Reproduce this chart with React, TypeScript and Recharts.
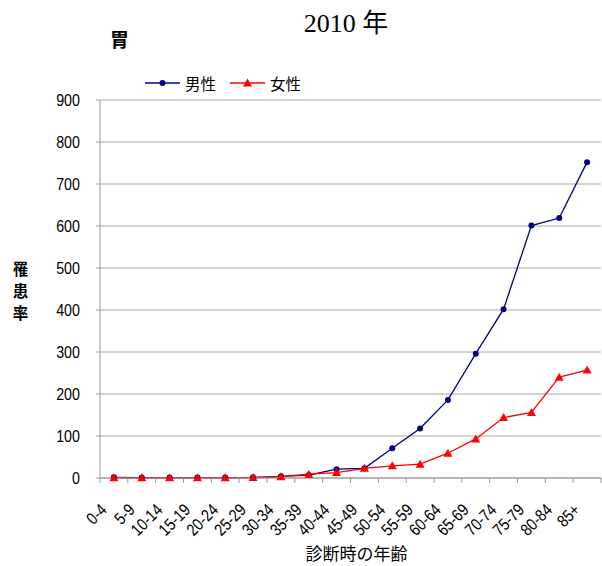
import { CartesianGrid, Legend, Line, LineChart, XAxis, YAxis } from 'recharts';

const ageGroups = [
  '0-4', '5-9', '10-14', '15-19', '20-24', '25-29', '30-34', '35-39', '40-44',
  '45-49', '50-54', '55-59', '60-64', '65-69', '70-74', '75-79', '80-84', '85+',
];
const maleRates = [1.5, 1, 1, 1, 1, 1.5, 4, 7, 21, 23, 71, 118, 186, 296, 402, 601, 619, 752];
const femaleRates = [0.5, 0.5, 0.5, 0.5, 0.5, 1, 3, 9, 13, 23, 29, 33, 59, 93, 144, 156, 240, 257];
const rateTicks = [0, 100, 200, 300, 400, 500, 600, 700, 800, 900];
const seriesOrder = ['男性', '女性'];

const data = ageGroups.map((age, i) => ({
  pos: i + 0.5,
  age,
  male: maleRates[i],
  female: femaleRates[i],
}));
const boundaryTicks = ageGroups.map((_, i) => i).concat(ageGroups.length);

const CHART_W = 602;
const CHART_H = 566;
const Y_AXIS_W = 100;
const RIGHT = 1;
const PLOT_W = CHART_W - Y_AXIS_W - RIGHT;

const NAVY = '#000080';
const RED = '#ff0000';
const sans = '"Liberation Sans", Arial, sans-serif';
const jp = '"Noto Sans CJK JP", sans-serif';
// the original uses a condensed face, so squeeze the regular one a little
const SQUEEZE = 0.84;

function AgeTick(props: any) {
  const { x, y, payload } = props;
  const i = payload.value;
  if (i >= ageGroups.length) return null;
  const half = PLOT_W / ageGroups.length / 2;
  const tx = x + half - 6;
  const ty = y + 26;
  return (
    <text
      textAnchor="end"
      fontSize={17}
      fontFamily={sans}
      fill="#000"
      transform={`translate(${tx}, ${ty}) rotate(-45) scale(${SQUEEZE}, 1)`}
    >
      {ageGroups[i]}
    </text>
  );
}

function RateTick(props: any) {
  const { x, y, payload } = props;
  return (
    <text
      textAnchor="end"
      dy="0.36em"
      fontSize={17}
      fontFamily={sans}
      fill="#000"
      transform={`translate(${x}, ${y}) scale(${SQUEEZE}, 1)`}
    >
      {payload.value}
    </text>
  );
}

function Triangle(props: any) {
  const { cx, cy, index } = props;
  if (cx == null || cy == null) return <g key={index} />;
  return (
    <polygon
      key={index}
      points={`${cx},${cy - 4.5} ${cx - 4.5},${cy + 3.5} ${cx + 4.5},${cy + 3.5}`}
      fill={RED}
    />
  );
}

function LegendBox({ payload }: any) {
  const items = [...(payload || [])].sort(
    (a: any, b: any) => seriesOrder.indexOf(a.value) - seriesOrder.indexOf(b.value),
  );
  return (
    <div style={{ display: 'flex', alignItems: 'center', fontFamily: jp, fontSize: 15.5, lineHeight: '20px' }}>
      {items.map((p: any) => (
        <div key={p.value} style={{ display: 'flex', alignItems: 'center', marginRight: 14 }}>
          <svg width={35} height={10} style={{ marginRight: 5 }}>
            <line x1={0} y1={5} x2={35} y2={5} stroke={p.color} strokeWidth={1.3} />
            {p.value === '男性' ? (
              <circle cx={17.5} cy={5} r={3} fill={p.color} />
            ) : (
              <polygon points="17.5,0.5 13,8.5 22,8.5" fill={p.color} />
            )}
          </svg>
          <span>{p.value}</span>
        </div>
      ))}
    </div>
  );
}

function RateLabel(props: any) {
  const { viewBox } = props;
  const x = 20.5;
  const cy = (viewBox?.y ?? 100) + (viewBox?.height ?? 378) / 2;
  return (
    <text x={x} y={cy - 14} textAnchor="middle" fontFamily={jp} fontSize={15.5} fontWeight={700} fill="#000">
      <tspan x={x} dy={0}>罹</tspan>
      <tspan x={x} dy={22}>患</tspan>
      <tspan x={x} dy={22}>率</tspan>
    </text>
  );
}

function AgeLabel(props: any) {
  const { viewBox } = props;
  const x = (viewBox?.x ?? 100) + (viewBox?.width ?? PLOT_W) / 2 + 6;
  const y = (viewBox?.y ?? 478) + (viewBox?.height ?? 88) - 6;
  return (
    <text x={x} y={y} textAnchor="middle" fontFamily={jp} fontSize={17} fill="#000">
      診断時の年齢
    </text>
  );
}

export default function App() {
  return (
    <div style={{ position: 'absolute', left: 0, top: 0, width: CHART_W, height: CHART_H, background: '#fff' }}>
      <div
        style={{
          position: 'absolute', left: 0, width: CHART_W, top: 2, textAlign: 'center',
          fontFamily: '"Liberation Serif", "Noto Sans CJK JP", serif', fontSize: 26, paddingLeft: 90,
          boxSizing: 'border-box',
        }}
      >
        2010 年
      </div>
      <div style={{ position: 'absolute', left: 110, top: 25, fontFamily: jp, fontSize: 19, fontWeight: 700 }}>
        胃
      </div>
      <LineChart
        width={CHART_W}
        height={CHART_H}
        data={data}
        margin={{ top: 100, right: RIGHT, left: 0, bottom: 0 }}
      >
        <CartesianGrid horizontal vertical={false} stroke="#a6a6a6" />
        <XAxis
          dataKey="pos"
          type="number"
          domain={[0, ageGroups.length]}
          ticks={boundaryTicks}
          interval={0}
          height={88}
          stroke="#999"
          tickSize={5}
          tickMargin={2}
          tick={<AgeTick />}
          label={{ content: <AgeLabel /> }}
        />
        <YAxis
          type="number"
          domain={[0, 900]}
          ticks={rateTicks}
          interval={0}
          width={Y_AXIS_W}
          stroke="#999"
          tickSize={4}
          tickMargin={16}
          tick={<RateTick />}
          label={{ content: <RateLabel /> }}
        />
        <Legend
          verticalAlign="top"
          align="left"
          content={<LegendBox />}
          wrapperStyle={{ top: 73, left: 145, width: 'auto', height: 0, overflow: 'visible' }}
        />
        <Line
          name="男性"
          dataKey="male"
          stroke={NAVY}
          strokeWidth={1.3}
          dot={{ r: 3, fill: NAVY, stroke: NAVY, strokeWidth: 0 }}
          activeDot={false}
          isAnimationActive={false}
        />
        <Line
          name="女性"
          dataKey="female"
          stroke={RED}
          strokeWidth={1.3}
          dot={<Triangle />}
          activeDot={false}
          isAnimationActive={false}
        />
      </LineChart>
    </div>
  );
}
